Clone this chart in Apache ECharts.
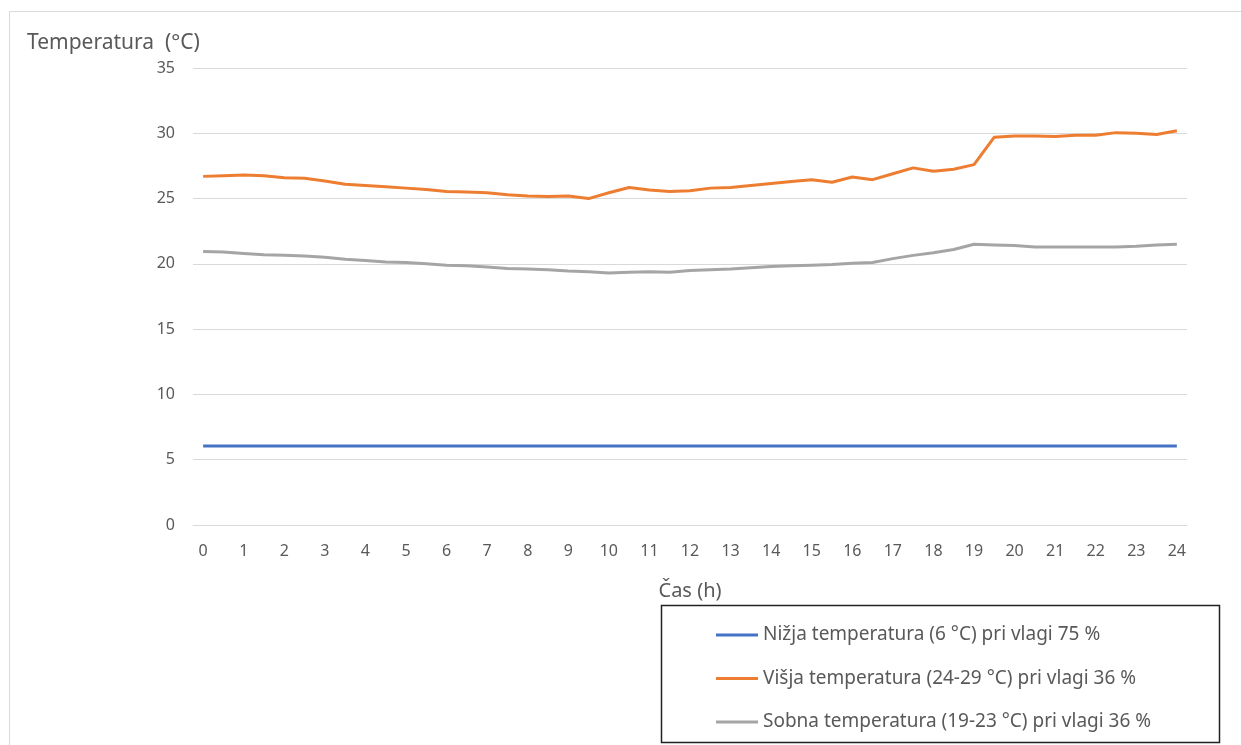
<!DOCTYPE html>
<html>
<head>
<meta charset="utf-8">
<script src="https://cdn.jsdelivr.net/npm/echarts@6/dist/echarts.min.js"></script>
<style>
html,body{margin:0;padding:0;background:#fff;}
#chart{width:1241px;height:745px;}
</style>
</head>
<body>
<div id="chart"></div>
<script>
const hours = ['0','0.5','1','1.5','2','2.5','3','3.5','4','4.5','5','5.5','6','6.5','7','7.5','8','8.5','9','9.5','10','10.5','11','11.5','12','12.5','13','13.5','14','14.5','15','15.5','16','16.5','17','17.5','18','18.5','19','19.5','20','20.5','21','21.5','22','22.5','23','23.5','24'];

const seriesNames = [
  'Nižja temperatura (6 °C) pri vlagi 75 %',
  'Višja temperatura (24-29 °C) pri vlagi 36 %',
  'Sobna temperatura (19-23 °C) pri vlagi 36 %'
];

const lowTemp = [6.05,6.05,6.05,6.05,6.05,6.05,6.05,6.05,6.05,6.05,6.05,6.05,6.05,6.05,6.05,6.05,6.05,6.05,6.05,6.05,6.05,6.05,6.05,6.05,6.05,6.05,6.05,6.05,6.05,6.05,6.05,6.05,6.05,6.05,6.05,6.05,6.05,6.05,6.05,6.05,6.05,6.05,6.05,6.05,6.05,6.05,6.05,6.05,6.05];

const highTemp = [26.7,26.75,26.8,26.75,26.6,26.55,26.35,26.1,26.0,25.9,25.8,25.7,25.55,25.5,25.45,25.3,25.2,25.15,25.2,25.0,25.45,25.85,25.65,25.55,25.6,25.8,25.85,26.0,26.15,26.3,26.45,26.25,26.65,26.45,26.9,27.35,27.1,27.25,27.6,29.7,29.8,29.8,29.75,29.85,29.85,30.05,30.0,29.9,30.2];

const roomTemp = [20.95,20.9,20.8,20.7,20.65,20.6,20.5,20.35,20.25,20.15,20.1,20.0,19.9,19.85,19.75,19.65,19.6,19.55,19.45,19.4,19.3,19.35,19.4,19.35,19.5,19.55,19.6,19.7,19.8,19.85,19.9,19.95,20.05,20.1,20.4,20.65,20.85,21.1,21.5,21.45,21.4,21.3,21.3,21.3,21.3,21.3,21.35,21.45,21.5];

const colors = ['#4472C4','#ED7D31','#A5A5A5'];
const FONT = 'Noto Sans';
const TXT = '#595959';

const chart = echarts.init(document.getElementById('chart'), null, {renderer:'canvas'});
chart.setOption({
  animation: false,
  backgroundColor: '#fff',
  textStyle: {fontFamily: FONT},
  title: {
    text: 'Temperatura  (°C)',
    left: 22, top: 28,
    textStyle: {fontFamily: FONT, fontSize: 21, fontWeight: 'normal', color: TXT}
  },
  graphic: [
    {type:'rect', shape:{x:9.5, y:11.5, width:1300, height:800}, style:{fill:'none', stroke:'#d9d9d9', lineWidth:1}, silent:true},
    {type:'rect', shape:{x:661.5, y:605.5, width:558, height:137}, style:{fill:'none', stroke:'#222', lineWidth:1.5}, silent:true}
  ],
  grid: {left:193, right:54, top:68, bottom:220, containLabel:false},
  legend: {
    orient: 'vertical',
    left: 711, top: 620,
    itemWidth: 42, itemHeight: 14, itemGap: 23.5,
    icon: 'path://M0,6 L42,6 L42,9 L0,9 Z',
    textStyle: {fontFamily: FONT, fontSize: 19, lineHeight: 20, color: TXT},
    data: seriesNames
  },
  xAxis: {
    type: 'category',
    data: hours,
    boundaryGap: true,
    name: 'Čas (h)',
    nameLocation: 'middle',
    nameGap: 56,
    nameTextStyle: {fontFamily: FONT, fontSize: 20, color: TXT},
    axisLine: {lineStyle:{color:'#d9d9d9', width:1}},
    axisTick: {show:false},
    axisLabel: {interval: 1, margin: 18, fontFamily: FONT, fontSize: 16, color: TXT},
    splitLine: {show:false}
  },
  yAxis: {
    type: 'value',
    min: 0, max: 35, interval: 5,
    axisLine: {show:false},
    axisTick: {show:false},
    axisLabel: {margin: 18, fontFamily: FONT, fontSize: 16, color: TXT},
    splitLine: {lineStyle:{color:'#d9d9d9', width:1}}
  },
  series: [
    {name: seriesNames[0], type:'line', data: lowTemp, symbol:'none', lineStyle:{width:3, color:colors[0]}, itemStyle:{color:colors[0]}},
    {name: seriesNames[1], type:'line', data: highTemp, symbol:'none', lineStyle:{width:3, color:colors[1]}, itemStyle:{color:colors[1]}},
    {name: seriesNames[2], type:'line', data: roomTemp, symbol:'none', lineStyle:{width:3, color:colors[2]}, itemStyle:{color:colors[2]}}
  ]
});
</script>
</body>
</html>
